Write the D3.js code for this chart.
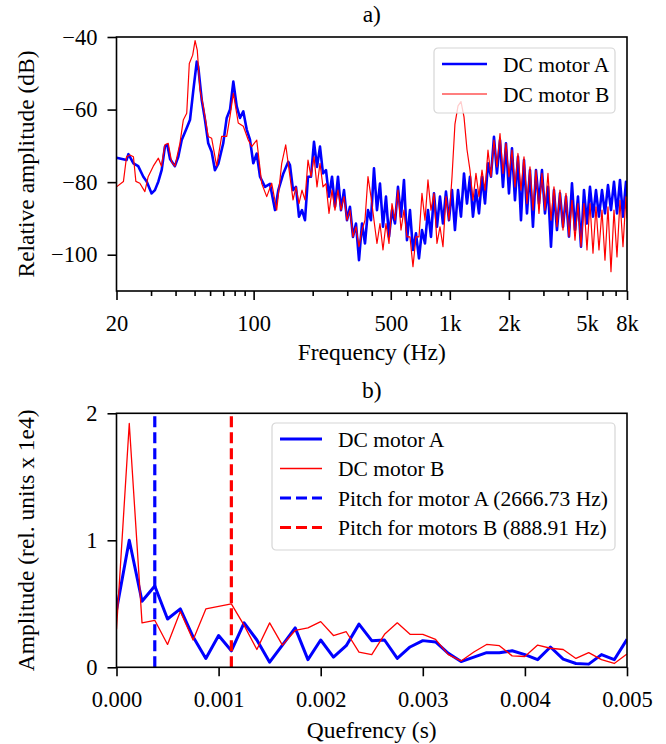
<!DOCTYPE html>
<html>
<head>
<meta charset="utf-8">
<script src="https://cdn.jsdelivr.net/npm/d3@7"></script>
<style>
body { margin: 0; background: #fff; }
svg { display: block; }
</style>
</head>
<body>
<svg id="chart" width="666" height="744" font-family="'Liberation Serif', 'Times New Roman', serif"></svg>
<script>
// panel a) spectrum
// low band (20-150 Hz), own sample points per motor
const freqLowA = [20, 22.5, 23.0, 24.4, 25.8, 27.4, 28.5, 30.2, 31.4, 32.7,
  34.0, 35.3, 36.3, 37.5, 39.7, 41.3, 43.0, 45.6, 47.4, 49.3,
  51.3, 52.2, 54.4, 56.5, 58.7, 61.1, 63.5, 66.1, 70.0, 72.9,
  75.8, 78.8, 82.0, 85.2, 88.6, 92.2, 95.8, 99.6, 103.7, 107.8,
  114.3, 121.2, 128.5, 133.6, 141.7, 150.2];
const dbLowA = [-73.3, -73.9, -72.3, -74.8, -75.6, -78.5, -79.8, -83.1, -82.2, -79.8,
  -76.6, -70.2, -69.7, -73.6, -75.6, -73.0, -68.4, -65.1, -62.8, -54.6,
  -46.8, -48.2, -57.4, -62.8, -69.3, -71.6, -76.7, -74.9, -69.3, -62.3,
  -60.0, -52.3, -59.1, -62.3, -60.5, -65.5, -68.3, -74.8, -72.1, -78.5,
  -81.3, -80.5, -87.7, -82.2, -77.6, -74.4];
const freqLowB = [20, 21.7, 22.5, 23.4, 24.4, 25.1, 26.3, 27.9, 29.0, 30.8,
  32.7, 33.9, 35.3, 36.7, 38.2, 39.7, 42.1, 43.8, 45.6, 47.0,
  48.9, 50.3, 51.6, 53.3, 55.4, 58.7, 61.1, 64.8, 68.7, 72.9,
  75.8, 78.8, 83.5, 88.6, 93.9, 97.8, 103.7, 110.0, 116.6, 123.6,
  131.1, 139.0, 145.7];
const dbLowB = [-81.3, -79.8, -73.0, -72.5, -73.0, -79.8, -80.3, -82.6, -78.5, -75.6,
  -73.4, -75.6, -69.7, -69.3, -74.4, -75.6, -69.3, -62.9, -61.0, -47.3,
  -45.0, -41.0, -43.6, -54.6, -59.1, -67.4, -67.9, -75.6, -67.4, -67.4,
  -61.9, -55.5, -63.7, -64.6, -68.4, -70.2, -68.4, -80.4, -84.0, -80.3,
  -87.7, -74.9, -69.7];

// high band (150 Hz - 8 kHz), shared frequencies, noisy band read top/bottom
const freqHigh = [153.2, 158.8, 164.4, 170.3, 176.4, 182.7, 189.3, 196.1, 203.1, 210.4,
  217.9, 225.7, 233.8, 242.2, 250.9, 259.8, 269.1, 278.8, 288.8, 299.1,
  309.8, 320.9, 332.4, 344.4, 356.7, 369.5, 382.7, 396.4, 410.6, 425.3,
  440.6, 456.4, 472.7, 489.7, 507.2, 525.4, 544.2, 563.7, 583.9, 604.8,
  626.5, 648.9, 672.2, 696.3, 721.2, 747.1, 773.8, 801.6, 830.3, 860.0,
  890.9, 922.8, 955.8, 990.3, 1026, 1062, 1101, 1140, 1181, 1223,
  1267, 1312, 1359, 1408, 1459, 1511, 1565, 1621, 1679, 1739,
  1802, 1866, 1933, 2002, 2074, 2148, 2225, 2305, 2388, 2473,
  2562, 2653, 2749, 2847, 2949, 3055, 3164, 3278, 3395, 3517,
  3643, 3774, 3909, 4049, 4194, 4345, 4500, 4662, 4829, 5002,
  5181, 5367, 5559, 5758, 5965, 6178, 6400, 6629, 6867, 7113,
  7368, 7632, 7905, 8000];
const dbHighA = [-75.3, -82.2, -81.3, -89.5, -87.7, -90.5, -78.5, -78.5, -68.9, -75.8,
  -70.2, -77.6, -76.7, -84.0, -78.5, -86.8, -78.5, -87.7, -82.2, -90.5,
  -86.8, -95.1, -91.4, -101.5, -91.4, -96.9, -87.7, -90.5, -76.2, -87.7,
  -80.4, -92.3, -84.0, -95.1, -87.7, -91.4, -81.3, -89.5, -79.4, -96.0,
  -87.7, -98.7, -94.1, -101.0, -93.2, -96.9, -87.7, -95.1, -83.1, -92.3,
  -84.0, -91.4, -82.6, -90.5, -82.2, -93.2, -82.2, -89.5, -77.6, -85.9,
  -78.5, -89.5, -82.2, -88.6, -78.5, -85.9, -74.8, -78.5, -67.5, -77.6,
  -68.4, -81.3, -69.3, -83.1, -70.7, -85.0, -73.0, -90.5, -73.9, -88.6,
  -76.7, -92.3, -76.7, -85.9, -76.7, -88.6, -81.3, -97.8, -82.2, -93.2,
  -83.1, -92.3, -84.0, -95.0, -80.3, -93.2, -84.0, -97.8, -82.2, -91.4,
  -81.3, -89.5, -82.2, -89.5, -82.2, -88.6, -80.8, -87.7, -79.9, -88.6,
  -79.4, -89.5, -79.9, -84.0];
const dbHighB = [-78.5, -84.9, -81.3, -85.9, -82.2, -84.9, -73.9, -78.5, -73.0, -81.3,
  -74.8, -81.3, -80.4, -88.6, -82.2, -87.7, -82.2, -87.7, -84.0, -90.5,
  -87.7, -95.1, -92.3, -97.8, -93.2, -90.5, -78.5, -84.0, -90.5, -96.9,
  -91.4, -98.7, -91.4, -96.9, -85.9, -90.5, -82.2, -93.2, -87.7, -95.1,
  -95.1, -103.3, -95.1, -95.1, -83.1, -90.5, -79.4, -87.7, -83.1, -96.9,
  -92.3, -97.8, -84.0, -90.5, -78.5, -64.0, -59.0, -57.8, -62.0, -71.0,
  -76.7, -85.0, -77.6, -84.0, -76.7, -82.2, -71.2, -78.5, -68.4, -75.8,
  -66.6, -77.6, -69.3, -78.5, -71.2, -81.3, -72.1, -82.2, -73.0, -85.9,
  -75.8, -87.7, -76.7, -88.6, -77.6, -87.7, -77.6, -90.5, -81.3, -92.3,
  -82.2, -93.2, -83.1, -95.0, -85.0, -96.0, -85.9, -97.8, -85.9, -98.7,
  -85.9, -99.6, -86.8, -98.7, -87.7, -101.5, -86.8, -104.7, -87.7, -100.6,
  -85.0, -97.8, -84.0, -90.0];

const freqTicks = [20, 100, 500, 1000, 2000, 5000, 8000];
const freqTickLabels = ["20", "100", "500", "1k", "2k", "5k", "8k"];
const freqMinor = [30, 40, 50, 60, 70, 80, 90, 200, 300, 400, 600, 700, 800, 900, 3000, 4000, 6000, 7000];
const dbTicks = [-40, -60, -80, -100];

// panel b) cepstrum
const quefrency = [0, 0.000125, 0.00025, 0.000375, 0.0005, 0.000625, 0.00075, 0.000875, 0.001, 0.001125,
  0.00125, 0.001375, 0.0015, 0.001625, 0.00175, 0.001875, 0.002, 0.002125, 0.00225, 0.002375,
  0.0025, 0.002625, 0.00275, 0.002875, 0.003, 0.003125, 0.00325, 0.003375, 0.0035, 0.003625,
  0.00375, 0.003875, 0.004, 0.004125, 0.00425, 0.004375, 0.0045, 0.004625, 0.00475, 0.004875, 0.005];
const ampA = [0.45, 1.0, 0.52, 0.64, 0.38, 0.46, 0.24, 0.07, 0.25, 0.13,
  0.35, 0.215, 0.04, 0.175, 0.31, 0.06, 0.215, 0.08, 0.17, 0.34,
  0.21, 0.215, 0.07, 0.16, 0.21, 0.20, 0.11, 0.045, 0.08, 0.115,
  0.115, 0.13, 0.10, 0.06, 0.16, 0.065, 0.03, 0.025, 0.10, 0.06, 0.22];
const ampB = [0.3, 1.92, 0.35, 0.37, 0.18, 0.44, 0.215, 0.46, 0.48, 0.50,
  0.33, 0.14, 0.35, 0.175, 0.29, 0.31, 0.36, 0.25, 0.28, 0.12,
  0.10, 0.26, 0.35, 0.26, 0.26, 0.22, 0.10, 0.05, 0.12, 0.18,
  0.17, 0.09, 0.085, 0.175, 0.15, 0.14, 0.07, 0.115, 0.06, 0.03, 0.105];
const pitchA = 1 / 2666.73;
const pitchB = 1 / 888.91;
const quefTicks = [0, 0.001, 0.002, 0.003, 0.004, 0.005];
const ampTicks = [0, 1, 2];

const BLUE = "#0000ff", RED = "#ff0000";
const svg = d3.select("#chart");
const left = 116.5, right = 627;
const topA = 37, bottomA = 291;
const topB = 413.3, bottomB = 667.3;

const xA = d3.scaleLog().domain([20, 8000]).range([left, right]);
const yA = d3.scaleLinear().domain([-110, -40]).range([bottomA, topA]);
const xB = d3.scaleLinear().domain([0, 0.005]).range([left, right]);
const yB = d3.scaleLinear().domain([0, 2]).range([bottomB, topB]);

const defs = svg.append("defs");
defs.append("clipPath").attr("id", "clipA").append("rect")
  .attr("x", left).attr("y", topA).attr("width", right - left).attr("height", bottomA - topA);
defs.append("clipPath").attr("id", "clipB").append("rect")
  .attr("x", left).attr("y", topB).attr("width", right - left).attr("height", bottomB - topB);

function styleAxis(g) {
  g.attr("font-family", null).attr("font-size", 22.5);
  g.select(".domain").remove();
  g.selectAll(".tick line").attr("stroke", "#000").attr("stroke-width", 1.6);
  g.selectAll(".tick text").attr("fill", "#000");
}

function drawFrame(top, bottom) {
  svg.append("rect").attr("x", left).attr("y", top).attr("width", right - left).attr("height", bottom - top)
    .attr("fill", "none").attr("stroke", "#000").attr("stroke-width", 1.6);
}

function drawLegend(x, y, w, h, rowH, items) {
  const g = svg.append("g").attr("transform", `translate(${x},${y})`);
  g.append("rect").attr("width", w).attr("height", h).attr("rx", 4)
    .attr("fill", "#fff").attr("fill-opacity", 0.8).attr("stroke", "#d6d6d6").attr("stroke-width", 1.2);
  items.forEach((it, i) => {
    const cy = 16 + i * rowH;
    g.append("line").attr("x1", 8).attr("x2", 8 + it.len).attr("y1", cy).attr("y2", cy)
      .attr("stroke", it.color).attr("stroke-width", it.width)
      .attr("stroke-dasharray", it.dash || null);
    g.append("text").attr("x", 8 + it.len + 16).attr("y", cy).attr("dy", "0.35em")
      .attr("font-size", 21.5).attr("fill", "#000").text(it.label);
  });
}

function axisTitle(x, y, text, rotate) {
  svg.append("text").attr("transform", `translate(${x},${y})` + (rotate ? " rotate(-90)" : ""))
    .attr("dy", "0.35em").attr("text-anchor", "middle").attr("font-size", 23.5).attr("fill", "#000").text(text);
}

// ---------- panel a ----------
axisTitle((left + right) / 2, 14, "a)");

const seriesA = d3.zip(freqLowA.concat(freqHigh), dbLowA.concat(dbHighA));
const seriesB = d3.zip(freqLowB.concat(freqHigh), dbLowB.concat(dbHighB));
const lineA = d3.line().x(d => xA(d[0])).y(d => yA(d[1]));
const gA = svg.append("g").attr("clip-path", "url(#clipA)");
gA.append("path").datum(seriesA).attr("d", lineA)
  .attr("fill", "none").attr("stroke", BLUE).attr("stroke-width", 2.6).attr("stroke-linejoin", "round");
gA.append("path").datum(seriesB).attr("d", lineA)
  .attr("fill", "none").attr("stroke", RED).attr("stroke-width", 1.2).attr("stroke-linejoin", "round");

svg.append("g").attr("transform", `translate(0,${bottomA})`)
  .call(d3.axisBottom(xA).tickValues(freqMinor).tickSize(5).tickFormat(""))
  .call(styleAxis);
svg.append("g").attr("transform", `translate(0,${bottomA})`)
  .call(d3.axisBottom(xA).tickValues(freqTicks).tickSize(9).tickPadding(15)
    .tickFormat((d, i) => freqTickLabels[i]))
  .call(styleAxis);
svg.append("g").attr("transform", `translate(${left},0)`)
  .call(d3.axisLeft(yA).tickValues(dbTicks).tickSize(9).tickPadding(10).tickFormat(d3.format("d")))
  .call(styleAxis);
drawFrame(topA, bottomA);

axisTitle((left + right) / 2, 352, "Frequency (Hz)");
axisTitle(26, (topA + bottomA) / 2, "Relative amplitude (dB)", true);

drawLegend(434, 48, 181, 65, 30, [
  { label: "DC motor A", color: BLUE, width: 2.6, len: 45 },
  { label: "DC motor B", color: RED, width: 1.2, len: 45 }
]);

// ---------- panel b ----------
axisTitle((left + right) / 2, 390, "b)");

const lineB = d3.line().x(d => xB(d[0])).y(d => yB(d[1]));
const gB = svg.append("g").attr("clip-path", "url(#clipB)");
gB.append("path").datum(d3.zip(quefrency, ampA)).attr("d", lineB)
  .attr("fill", "none").attr("stroke", BLUE).attr("stroke-width", 3).attr("stroke-linejoin", "round");
gB.append("path").datum(d3.zip(quefrency, ampB)).attr("d", lineB)
  .attr("fill", "none").attr("stroke", RED).attr("stroke-width", 1.3).attr("stroke-linejoin", "round");
gB.append("line").attr("x1", xB(pitchA)).attr("x2", xB(pitchA)).attr("y1", yB(0)).attr("y2", yB(2))
  .attr("stroke", BLUE).attr("stroke-width", 3.2).attr("stroke-dasharray", "11,5");
gB.append("line").attr("x1", xB(pitchB)).attr("x2", xB(pitchB)).attr("y1", yB(0)).attr("y2", yB(2))
  .attr("stroke", RED).attr("stroke-width", 3.2).attr("stroke-dasharray", "11,5");

svg.append("g").attr("transform", `translate(0,${bottomB})`)
  .call(d3.axisBottom(xB).tickValues(quefTicks).tickSize(9).tickPadding(15).tickFormat(d3.format(".3f")))
  .call(styleAxis);
svg.append("g").attr("transform", `translate(${left},0)`)
  .call(d3.axisLeft(yB).tickValues(ampTicks).tickSize(9).tickPadding(10).tickFormat(d3.format("d")))
  .call(styleAxis);
drawFrame(topB, bottomB);

axisTitle((left + right) / 2, 730, "Quefrency (s)");
axisTitle(26, (topB + bottomB) / 2, "Amplitude (rel. units x 1e4)", true);

drawLegend(272, 423, 343, 127, 29.5, [
  { label: "DC motor A", color: BLUE, width: 3, len: 42 },
  { label: "DC motor B", color: RED, width: 1.3, len: 42 },
  { label: "Pitch for motor A (2666.73 Hz)", color: BLUE, width: 3.2, len: 42, dash: "11,5" },
  { label: "Pitch for motors B (888.91 Hz)", color: RED, width: 3.2, len: 42, dash: "11,5" }
]);
</script>
</body>
</html>
